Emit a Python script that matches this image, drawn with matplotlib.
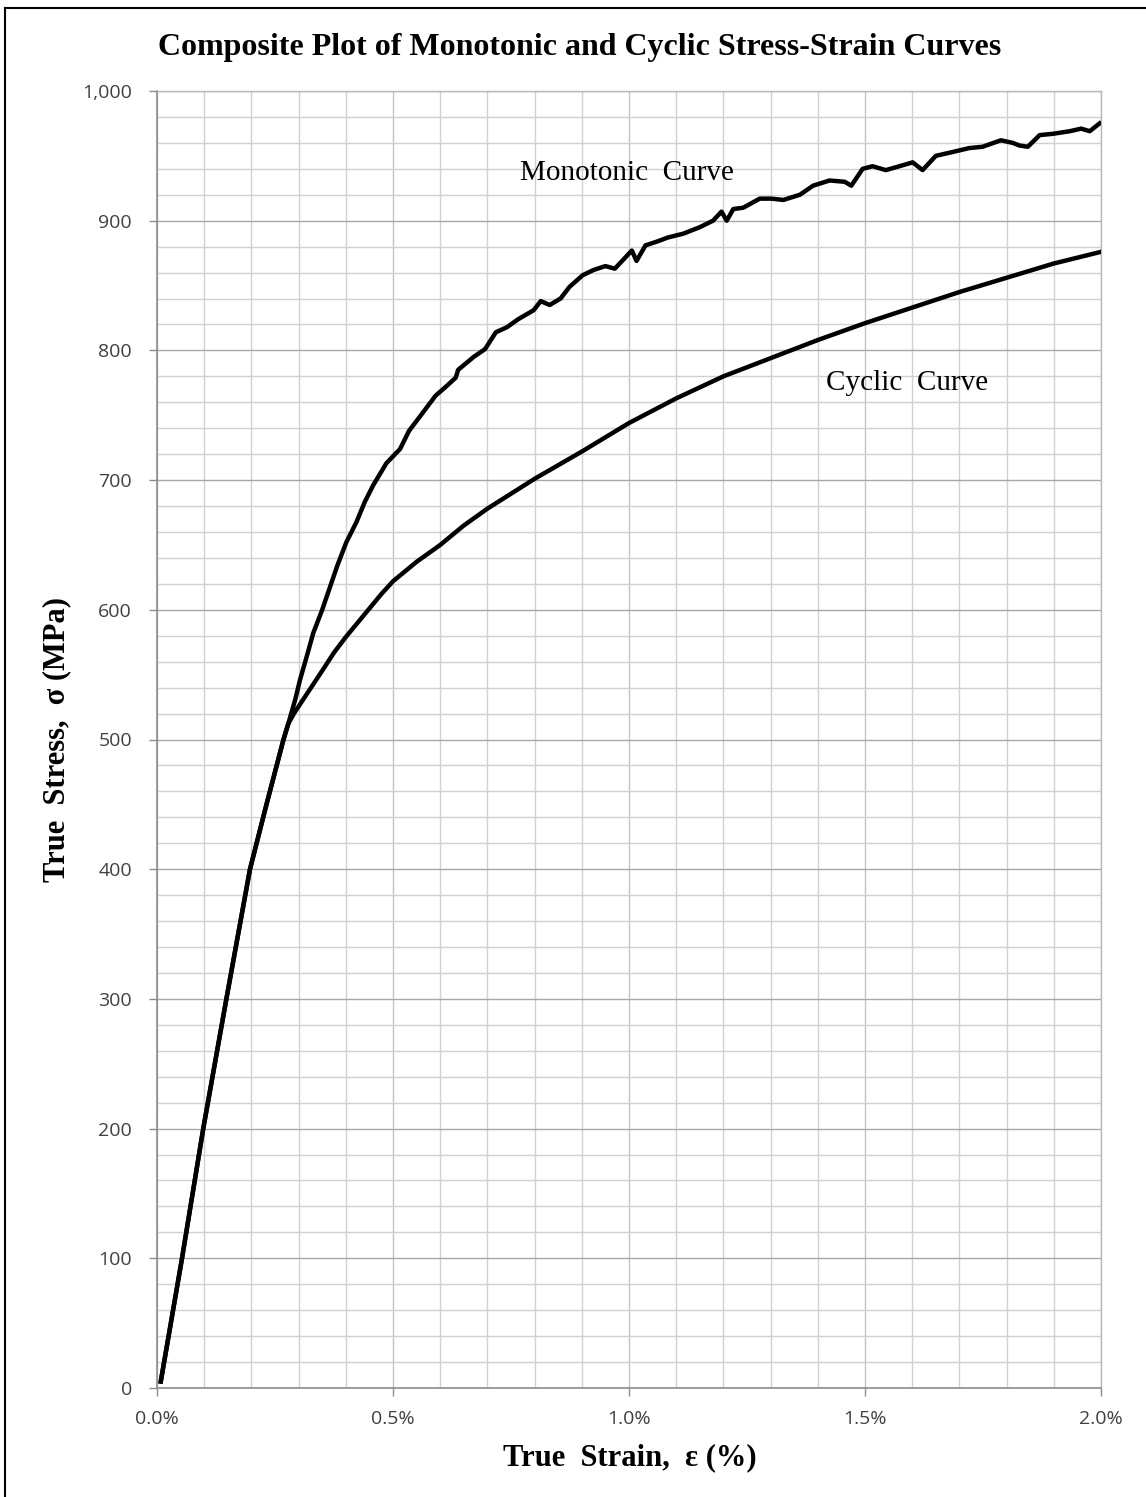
import matplotlib.pyplot as plt
from matplotlib.ticker import MultipleLocator, FuncFormatter
from matplotlib.lines import Line2D

# values (strain in %, stress in MPa)
mono_strain = [0.008, 0.053, 0.098, 0.147, 0.197, 0.232, 0.268, 0.278, 0.293, 0.303,
               0.318, 0.331, 0.350, 0.366, 0.382, 0.401, 0.423, 0.440, 0.458, 0.486,
               0.515, 0.534, 0.557, 0.590, 0.612, 0.633, 0.638, 0.671, 0.695, 0.718,
               0.742, 0.765, 0.798, 0.813, 0.832, 0.855, 0.874, 0.902, 0.925, 0.950,
               0.970, 0.988, 1.006, 1.016, 1.035, 1.060, 1.082, 1.115, 1.150, 1.178,
               1.196, 1.207, 1.221, 1.242, 1.277, 1.302, 1.327, 1.362, 1.390, 1.425,
               1.457, 1.471, 1.495, 1.516, 1.544, 1.573, 1.601, 1.622, 1.650, 1.686,
               1.721, 1.749, 1.788, 1.813, 1.827, 1.845, 1.870, 1.898, 1.934, 1.958,
               1.976, 1.997]
mono_stress = [5, 100, 200, 300, 400, 450, 500, 512, 531, 546,
               565, 582, 600, 617, 634, 652, 668, 683, 696, 713,
               724, 738, 749, 765, 772, 779, 785, 795, 801, 814,
               818, 824, 831, 838, 835, 840, 849, 858, 862, 865,
               863, 870, 877, 869, 881, 884, 887, 890, 895, 900,
               907, 900, 909, 910, 917, 917, 916, 920, 927, 931,
               930, 927, 940, 942, 939, 942, 945, 939, 950, 953,
               956, 957, 962, 960, 958, 957, 966, 967, 969, 971,
               969, 975]

cyc_strain = [0.008, 0.053, 0.098, 0.147, 0.197, 0.232, 0.268, 0.278, 0.290, 0.310,
              0.330, 0.350, 0.375, 0.400, 0.425, 0.450, 0.475, 0.500, 0.550, 0.600,
              0.650, 0.700, 0.800, 0.900, 1.000, 1.100, 1.200, 1.300, 1.400, 1.500,
              1.600, 1.700, 1.800, 1.900, 2.000]
cyc_stress = [5, 100, 200, 300, 400, 450, 500, 512, 520, 531,
              542, 553, 567, 579, 590, 601, 612, 622, 637, 650,
              665, 678, 701, 722, 744, 763, 780, 794, 808, 821,
              833, 845, 856, 867, 876]

serif = "Liberation Serif"
sans = "Open Sans"

fig = plt.figure(figsize=(11.46, 14.97), dpi=100)
ax = fig.add_axes([157/1146, 1 - 1388/1497, 944/1146, 1297/1497])

ax.plot(mono_strain, mono_stress, color="black", lw=3.2, solid_joinstyle="round", zorder=3)
ax.plot(cyc_strain, cyc_stress, color="black", lw=3.2, solid_joinstyle="round", zorder=3)

ax.set_xlim(0, 2.0)
ax.set_ylim(0, 1000)
ax.xaxis.set_major_locator(MultipleLocator(0.5))
ax.xaxis.set_minor_locator(MultipleLocator(0.1))
ax.yaxis.set_major_locator(MultipleLocator(100))
ax.yaxis.set_minor_locator(MultipleLocator(20))
ax.xaxis.set_major_formatter(FuncFormatter(lambda v, p: f"{v:.1f}%"))
ax.yaxis.set_major_formatter(FuncFormatter(lambda v, p: f"{int(v):,}"))

ax.grid(which="minor", color="#d0d0d0", lw=1.0)
ax.grid(which="major", axis="x", color="#c4c4c4", lw=1.0)
ax.grid(which="major", axis="y", color="#a8a8a8", lw=1.0)
ax.set_axisbelow(True)

for s in ["left", "bottom"]:
    ax.spines[s].set_color("#8c8c8c")
    ax.spines[s].set_linewidth(1.2)
for s in ["top", "right"]:
    ax.spines[s].set_color("#b8b8b8")
    ax.spines[s].set_linewidth(1.0)

ax.tick_params(which="major", direction="out", length=6, width=1, color="#8c8c8c",
               labelsize=14, labelcolor="#404040")
ax.tick_params(axis="y", pad=12)
ax.tick_params(axis="x", pad=10)
ax.tick_params(which="minor", length=0)
for lab in ax.get_xticklabels() + ax.get_yticklabels():
    lab.set_fontfamily(sans)

ax.text(0.996, 937, "Monotonic  Curve", family=serif, fontsize=21, ha="center", va="center")
ax.text(1.589, 775, "Cyclic  Curve", family=serif, fontsize=21, ha="center", va="center")

fig.text(580/1146, 1 - 47/1497, "Composite Plot of Monotonic and Cyclic Stress-Strain Curves",
         family=serif, fontweight="bold", fontsize=23, ha="center", va="center")
fig.text(630/1146, 1 - 1458/1497, "True  Strain,  ε (%)", family=serif, fontweight="bold",
         fontsize=22, ha="center", va="center")
fig.text(57/1146, 1 - 740/1497, "True  Stress,  σ (MPa)", family=serif, fontweight="bold",
         fontsize=22, ha="center", va="center", rotation=90)

# outer chart frame (only top and left edges are visible in the reference)
fig.add_artist(Line2D([5/1146, 5/1146], [0, 1 - 8/1497], transform=fig.transFigure,
                      color="black", lw=1.5))
fig.add_artist(Line2D([5/1146, 1], [1 - 8/1497, 1 - 8/1497], transform=fig.transFigure,
                      color="black", lw=1.5))

fig.savefig("out.png", dpi=100, facecolor="white")
